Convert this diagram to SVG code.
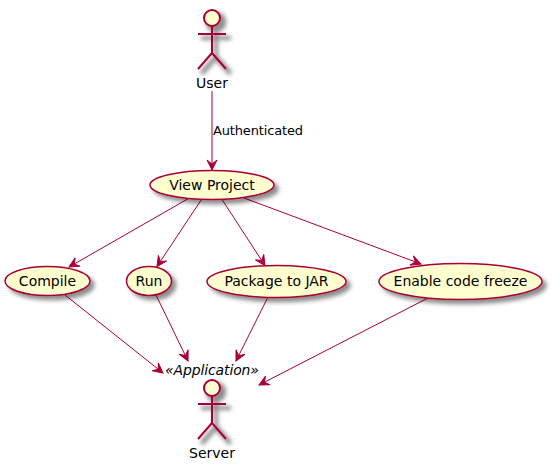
<svg xmlns="http://www.w3.org/2000/svg" width="553" height="470" viewBox="0 0 553 470">
<style>
text{font-family:"DejaVu Sans",sans-serif;font-size:14px;fill:#000}
.lbl{font-size:13px}
.uc{fill:#FEFECE;stroke:#A80036;stroke-width:1.5;filter:url(#sh)}
.body{fill:none;stroke:#A80036;stroke-width:2}
.head{fill:#FEFECE;stroke:#A80036;stroke-width:2}
.c{fill:none;stroke:#A80036;stroke-width:1;marker-end:url(#arr)}
</style>
<defs>
<filter id="sh" x="-30%" y="-30%" width="160%" height="160%"><feGaussianBlur in="SourceAlpha" stdDeviation="2"/><feOffset dx="4" dy="4"/><feColorMatrix type="matrix" values="0 0 0 0 0 0 0 0 0 0 0 0 0 0 0 0 0 0 0.45 0"/><feMerge><feMergeNode/><feMergeNode in="SourceGraphic"/></feMerge></filter>
<filter id="sha" x="-60%" y="-30%" width="220%" height="160%"><feMorphology in="SourceAlpha" operator="dilate" radius="1"/><feGaussianBlur stdDeviation="2"/><feOffset dx="4" dy="4"/><feColorMatrix type="matrix" values="0 0 0 0 0 0 0 0 0 0 0 0 0 0 0 0 0 0 0.45 0"/><feMerge><feMergeNode/><feMergeNode in="SourceGraphic"/></feMerge></filter>
<marker id="arr" markerUnits="userSpaceOnUse" markerWidth="12" markerHeight="12" refX="10" refY="5" orient="auto" overflow="visible"><path d="M0,0 L10,5 L0,10 L4,5 Z" fill="#A80036" stroke="#A80036"/></marker>
</defs>
<g id="connectors">
<path class="c" d="M212,91 L212,170"/>
<path class="c" d="M188.500,198.500 L69,267"/>
<path class="c" d="M201.500,199.500 L157,266.500"/>
<path class="c" d="M222,199.500 L265,265.500"/>
<path class="c" d="M244,198 L421,264"/>
<path class="c" d="M65,295 L163,373"/>
<path class="c" d="M156,295 L188,361"/>
<path class="c" d="M268,297 L236,361"/>
<path class="c" d="M428,298 L259,385"/>
<text class="lbl" x="213" y="135" textLength="90">Authenticated</text>
</g>
<g id="user">
<g filter="url(#sha)"><circle class="head" cx="212" cy="18" r="8"/><path class="body" d="M212,26 V53 M198,34 H226 M212,53 L198,69 M212,53 L226,69"/></g>
<text x="212" y="88" text-anchor="middle">User</text>
</g>
<g id="view-project"><ellipse class="uc" cx="212" cy="185" rx="62" ry="14.500"/><text x="212" y="190" text-anchor="middle">View Project</text></g>
<g id="compile"><ellipse class="uc" cx="47.500" cy="281" rx="42.500" ry="14.500"/><text x="47.500" y="286" text-anchor="middle">Compile</text></g>
<g id="run"><ellipse class="uc" cx="149" cy="281" rx="22.500" ry="14.500"/><text x="149" y="286" text-anchor="middle">Run</text></g>
<g id="package-to-jar"><ellipse class="uc" cx="276.500" cy="281.500" rx="69.500" ry="16"/><text x="276.500" y="286" text-anchor="middle">Package to JAR</text></g>
<g id="enable-code-freeze"><ellipse class="uc" cx="460.500" cy="281.500" rx="81.500" ry="18"/><text x="460.500" y="286" text-anchor="middle">Enable code freeze</text></g>
<g id="server">
<text x="165" y="375" textLength="94" font-style="italic">«Application»</text>
<g filter="url(#sha)"><circle class="head" cx="212" cy="388" r="8"/><path class="body" d="M212,396 V423 M198,404 H226 M212,423 L198,439 M212,423 L226,439"/></g>
<text x="212" y="458" text-anchor="middle">Server</text>
</g>
</svg>
